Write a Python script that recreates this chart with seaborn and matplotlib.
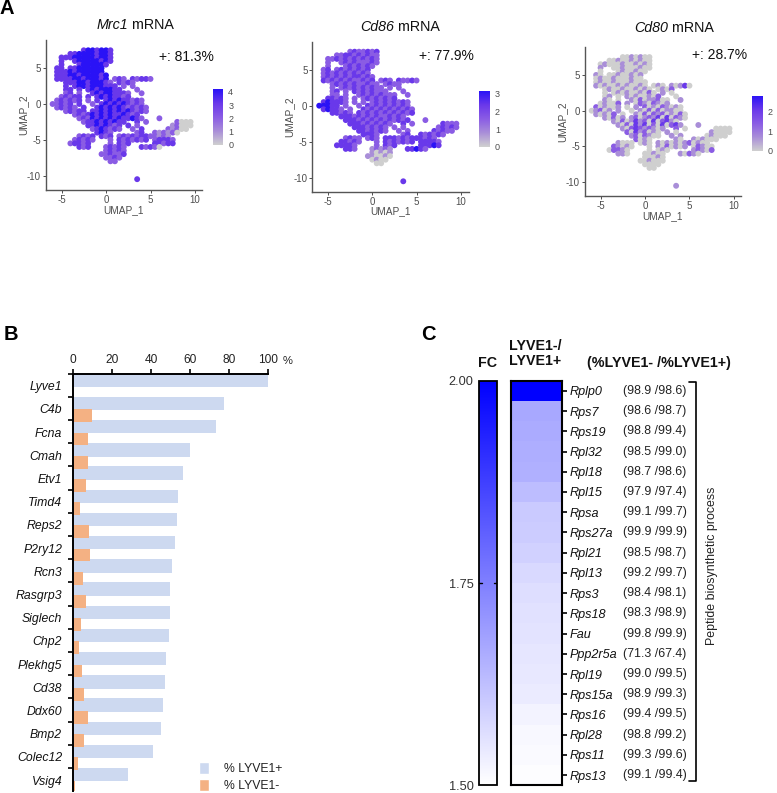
import numpy as np
import pandas as pd
import matplotlib
matplotlib.use("Agg")
import matplotlib.pyplot as plt
from matplotlib.colors import LinearSegmentedColormap, Normalize
from matplotlib.cm import ScalarMappable
from matplotlib.lines import Line2D
from matplotlib.patches import Patch
from matplotlib import transforms
import seaborn as sns

# ---------- data ----------
# UMAP cell map: one text row per UMAP_2 value, one character per UMAP_1 value, digit = expression level
umap_1_start, umap_step = -6.0, 0.5
umap_2_rows = [7.5, 7, 6.5, 6, 5.5, 5, 4.5, 4, 3.5, 3, 2.5, 2, 1.5, 1, 0.5, 0, -0.5, -1, -1.5, -2, -2.5, -3,
               -3.5, -4, -4.5, -5, -5.5, -6, -6.5, -7, -7.5, -8, -8.5, -9, -9.5, -10, -10.5]
mrc1_map = [
    ".......3443443", "....3344443443", "..333444443443", "..3..344444343", "..3...3444443", ".33.33444444",
    ".33343444444", ".333443444434", ".333344344434.232.32332", "...33344344432.3232", "...3.3443444333.2.2",
    "...33.3.34344433...2", "...23.2..343443332..2", "..23233.3.34343323", ".232323.2.3.343433232",
    "22323.3..2.3434343232", ".23232.3..343434323232", "...23233.3343434343232", ".....232343434334323",
    "......232434343433432...2", ".......2334343433..3.2......2000", "........33434323.3.2.......12000",
    ".........2343232..2.3.....21200", "..........3432.....23..212120", "......2323.323.232323322121",
    ".....23232...2.3232323.23332", "....23323....2.323.....33233", "......323...23232...32320",
    "............23232", "...........223223", "............2232", ".............22", "", "", "", "",
    "...................3"]
cd86_map = [
    ".......2322323", "....2233232322", "..223232323232", "..2..232322232", "..2...2323232", ".23.23232323",
    ".23232323232", ".232323233232", ".323232322323.232.32232", "...23232322322.2322", "...2.2323232322.2.2",
    "...23.2.32323222...2", "...22.2..232323222..2", "..33232.2.23232323", ".343332.2.2.232323232",
    "44433.2..2.3232323232", ".34332.2..323232323232", "...33232.3232323232323", ".....333232323223232",
    "......333232323232323...2", ".......3332323232..3.2......3222", "........33323232.2.2.......23232",
    ".........3323232..2.2.....32322", "..........3332.....23..323232", "......2322.232.333232333232",
    ".....33232...2.3232323.33332", "....33332....2.323.....33343", "......332...12121...33432",
    "............10101", "...........110010", "............0100", ".............00", "", "", "", "",
    "...................3"]
cd80_map = [
    ".......0010100", "....0010010100", "..010001001010", "..1..001000100", "..0...0100100", ".10.00100101",
    ".01001000100", ".010010001000", ".101001010010.010.10130", "...01001001010.0102", "...0.0101001020.1.0",
    "...01.0.10100102...0", "...10.0..102011200..1", "..01002.1.02102101", ".201001.0.1.201021010",
    "01201.1..0.1020201100", ".10102.0..102021201020", "...10201.1201213030210", ".....102013120302310",
    "......102031302030231...1", ".......1023212101..2.0......0000", "........20312010.1.0.......10000",
    ".........1202100..1.1.....01000", "..........2010.....10..101000", "......1000.010.101010120100",
    ".....21010...0.1020101.02100", "....02210....0.010.....12102", "......110...00100...10210",
    "............00010", "...........001000", "............0000", ".............00", "", "", "", "",
    "...................1"]
umap_panels = [("Mrc1", "+: 81.3%", mrc1_map), ("Cd86", "+: 77.9%", cd86_map), ("Cd80", "+: 28.7%", cd80_map)]
umap_x_ticks = [-5, 0, 5, 10]
umap_y_ticks = [5, 0, -5, -10]
colorbar_limits = [4.2, 3.17, 2.77]
colorbar_ticks = [[0, 1, 2, 3, 4], [0, 1, 2, 3], [0, 1, 2]]

genes_b = ["Lyve1", "C4b", "Fcna", "Cmah", "Etv1", "Timd4", "Reps2", "P2ry12", "Rcn3", "Rasgrp3", "Siglech",
           "Chp2", "Plekhg5", "Cd38", "Ddx60", "Bmp2", "Colec12", "Vsig4"]
pct_lyve1_pos = [100, 77.5, 73.5, 60.1, 56.4, 53.8, 53.4, 52.4, 50.9, 49.8, 49.8, 49.5, 47.8, 47.4, 46.4, 45.2, 40.9, 28.2]
pct_lyve1_neg = [0, 9.5, 7.6, 7.6, 6.5, 3.4, 8.1, 8.8, 4.8, 6.4, 4.1, 3.1, 4.5, 5.7, 7.6, 5.7, 2.2, 0.9]
x_ticks_b = [0, 20, 40, 60, 80, 100]

genes_c = ["Rplp0", "Rps7", "Rps19", "Rpl32", "Rpl18", "Rpl15", "Rpsa", "Rps27a", "Rpl21", "Rpl13", "Rps3", "Rps18",
           "Fau", "Ppp2r5a", "Rpl19", "Rps15a", "Rps16", "Rpl28", "Rps11", "Rps13"]
fold_change = [2.0, 1.67, 1.665, 1.66, 1.655, 1.63, 1.605, 1.6, 1.59, 1.575, 1.565, 1.56, 1.555, 1.55, 1.545, 1.54,
               1.525, 1.515, 1.51, 1.505]
pct_labels = ["(98.9 /98.6)", "(98.6 /98.7)", "(98.8 /99.4)", "(98.5 /99.0)", "(98.7 /98.6)", "(97.9 /97.4)",
              "(99.1 /99.7)", "(99.9 /99.9)", "(98.5 /98.7)", "(99.2 /99.7)", "(98.4 /98.1)", "(98.3 /98.9)",
              "(99.8 /99.9)", "(71.3 /67.4)", "(99.0 /99.5)", "(98.9 /99.3)", "(99.4 /99.5)", "(98.8 /99.2)",
              "(99.3 /99.6)", "(99.1 /99.4)"]
fc_ticks = [1.5, 1.75, 2.0]

# ---------- style ----------
sns.set_theme(style="white")
plt.rcParams["font.family"] = ["Liberation Sans", "DejaVu Sans"]
plt.rcParams["axes.unicode_minus"] = False
W, H = 777, 793
fig = plt.figure(figsize=(W / 100, H / 100), dpi=100, facecolor="white")


def box(x0, y0, x1, y1):
    return [x0 / W, 1 - y1 / H, (x1 - x0) / W, (y1 - y0) / H]


def txt(x, y, s, **kw):
    kw.setdefault("va", "center")
    return fig.text(x / W, 1 - y / H, s, **kw)


feature_cmap = LinearSegmentedColormap.from_list(
    "feature", ["#cfcfcf", "#a98ed8", "#8a5ce4", "#6a38ea", "#2a12f6"])
GREY = "#4d4d4d"


def parse_map(rows):
    xs, ys, ls = [], [], []
    for yv, row in zip(umap_2_rows, rows):
        for k, ch in enumerate(row):
            if ch.isdigit():
                xs.append(umap_1_start + umap_step * k)
                ys.append(yv)
                ls.append(int(ch))
    return pd.DataFrame({"UMAP_1": xs, "UMAP_2": ys, "level": ls})


# pixel geometry of the three UMAP panels: left, right, top, bottom, x at 0, y at 0, px per unit x / y
geo = [(45.7, 202, 40, 190, 106, 104, 8.9, 7.16),
       (312.3, 469, 41.7, 191.7, 372.3, 105.7, 8.85, 7.2),
       (584.7, 741, 46.7, 196, 645, 110.7, 8.89, 7.15)]
cb_boxes = [(212.7, 89.3, 223.3, 145), (479.3, 91, 490, 146.7), (751.7, 95.7, 762.7, 151)]
title_pos = [(96.7, 25), (360, 26.7), (634.3, 28)]
plus_pos = [(159.3, 57.3), (419, 56), (692.3, 55)]

for i, (gene, plus, rows) in enumerate(umap_panels):
    l, r, t, b, x0, y0, sx, sy = geo[i]
    ax = fig.add_axes(box(l, t, r, b))
    sns.scatterplot(data=parse_map(rows), x="UMAP_1", y="UMAP_2", hue="level", palette=feature_cmap,
                    hue_norm=(0, 4), legend=False, s=18, linewidth=0, ax=ax, marker="o")
    ax.set_xlim((l - x0) / sx, (r - x0) / sx)
    ax.set_ylim((y0 - b) / sy, (y0 - t) / sy)
    ax.set_xticks(umap_x_ticks)
    ax.set_yticks(umap_y_ticks)
    ax.tick_params(labelsize=7, colors=GREY, length=2, width=0.7, pad=1.5, bottom=True, left=True)
    ax.set_xlabel("UMAP_1", fontsize=7.3, color=GREY, labelpad=0)
    ax.set_ylabel("UMAP_2", fontsize=7.3, color=GREY, labelpad=-1)
    sns.despine(ax=ax)
    for s in ("left", "bottom"):
        ax.spines[s].set_color("#555555")
        ax.spines[s].set_linewidth(1.0)
    cax = fig.add_axes(box(*cb_boxes[i]))
    cb = fig.colorbar(ScalarMappable(Normalize(0, colorbar_limits[i]), feature_cmap), cax=cax)
    cb.outline.set_visible(False)
    cb.set_ticks(colorbar_ticks[i])
    cax.tick_params(length=0, labelsize=6.5, labelcolor=GREY, pad=3.5)
    tx, ty = title_pos[i]
    t1 = txt(tx, ty, gene, fontsize=10.3, style="italic", color="#111111")
    ax.annotate(" mRNA", xy=(1, 0.5), xycoords=t1, va="center", ha="left", fontsize=10.3, color="#111111",
                annotation_clip=False)
    txt(plus_pos[i][0], plus_pos[i][1], plus, fontsize=10, color="#111111")

# ---------- panel B ----------
axb = fig.add_axes(box(73.3, 373.6, 267.5, 791.2))
axb.patch.set_alpha(0)
pos = np.arange(len(genes_b))
sns.barplot(data=pd.DataFrame({"pct": pct_lyve1_pos, "row": pos + 0.287}), x="pct", y="row", orient="h",
            native_scale=True, width=0.573, color="#cdd9f0", saturation=1, errorbar=None, ax=axb,
            clip_on=False, linewidth=0)
sns.barplot(data=pd.DataFrame({"pct": pct_lyve1_neg, "row": pos + 0.82}), x="pct", y="row", orient="h",
            native_scale=True, width=0.547, color="#f4b183", saturation=1, errorbar=None, ax=axb,
            linewidth=0)
axb.set_xlim(0, 100)
axb.set_ylim(18, 0)
axb.set_xlabel("")
axb.set_ylabel("")
axb.xaxis.tick_top()
axb.set_xticks(x_ticks_b)
axb.tick_params(axis="x", length=3.6, width=1.2, color="black", labelsize=8.6, labelcolor="#222222", pad=2)
axb.set_yticks(pos)
axb.set_yticklabels([])
axb.tick_params(axis="y", which="major", left=True, length=3.6, width=1.2, color="black")
axb.set_yticks(pos + 0.52, minor=True)
axb.set_yticklabels(genes_b, minor=True, style="italic", fontsize=8.8, color="#111111")
axb.tick_params(axis="y", which="minor", left=True, length=0, pad=8)
for s in ("right", "bottom"):
    axb.spines[s].set_visible(False)
for s in ("left", "top"):
    axb.spines[s].set_visible(True)
    axb.spines[s].set_color("black")
    axb.spines[s].set_linewidth(1.4)
txt(283, 361, "%", fontsize=8, ha="left", color="#222222")
fig.legend(handles=[Patch(facecolor="#cdd9f0"), Patch(facecolor="#f4b183")], labels=["% LYVE1+", "% LYVE1-"],
           loc="lower left", bbox_to_anchor=(199 / W, 1 - 792 / H), frameon=False, fontsize=8.8,
           borderpad=0, borderaxespad=0, handlelength=0.8, handleheight=1.15, handletextpad=1.25,
           labelspacing=0.3, labelcolor="#222222")

# ---------- panel C ----------
fc_cmap = LinearSegmentedColormap.from_list("fc", ["#ffffff", "#0000ff"])
axh = fig.add_axes(box(511, 380.7, 561.7, 785.3))
caxh = fig.add_axes(box(479.3, 380.7, 496.7, 785.3))
frame = pd.DataFrame({"FC": fold_change}, index=genes_c)
sns.heatmap(frame, ax=axh, cbar_ax=caxh, cmap=fc_cmap, vmin=1.5, vmax=2.0, xticklabels=False, yticklabels=True)
axh.yaxis.tick_right()
axh.tick_params(axis="y", right=True, left=False, length=3.6, width=1.2, color="black", pad=2, rotation=0)
for lab in axh.get_yticklabels():
    lab.set_fontsize(9.1)
    lab.set_fontstyle("italic")
    lab.set_color("#111111")
    lab.set_rotation(0)
axh.set_xlabel("")
axh.set_ylabel("")
for s in axh.spines.values():
    s.set_visible(True)
    s.set_color("black")
    s.set_linewidth(1.5)
cbar = axh.collections[0].colorbar
cbar.set_ticks(fc_ticks)
cbar.set_ticklabels(["1.50", "1.75", "2.00"])
cbar.outline.set_visible(True)
cbar.outline.set_edgecolor("black")
cbar.outline.set_linewidth(1.3)
caxh.yaxis.set_ticks_position("left")
caxh.tick_params(length=0, labelsize=9.2, labelcolor="#333333", pad=4)
caxh.plot([0, 0.14], [1.75, 1.75], color="black", lw=1)
caxh.plot([0.86, 1], [1.75, 1.75], color="black", lw=1)

row_tf = transforms.blended_transform_factory(fig.transFigure, axh.transData)
for i, lab in enumerate(pct_labels):
    fig.text(622.7 / W, i + 0.5, lab, transform=row_tf, fontsize=8.9, va="center", ha="left", color="#222222")

txt(487.7, 362.7, "FC", fontsize=10.3, weight="bold", ha="center", color="#111111")
txt(509, 353.5, "LYVE1-/\nLYVE1+", fontsize=10.3, weight="bold", ha="left", linespacing=1.1, color="#111111")
txt(587, 362.7, "(%LYVE1- /%LYVE1+)", fontsize=10.3, weight="bold", ha="left", color="#111111")
fig.add_artist(Line2D([689 / W, 695.7 / W, 695.7 / W, 689 / W],
                      [1 - 382 / H, 1 - 382 / H, 1 - 781 / H, 1 - 781 / H], color="black", lw=1.2))
txt(711.7, 566, "Peptide biosynthetic process", fontsize=8.9, rotation=90, ha="center", color="#222222")

# ---------- panel letters ----------
txt(0, 9, "A", fontsize=14.5, weight="bold", color="black")
txt(4, 334.5, "B", fontsize=14.5, weight="bold", color="black")
txt(421, 334.5, "C", fontsize=14.5, weight="bold", color="black")

fig.savefig("out.png", dpi=100, facecolor="white")
